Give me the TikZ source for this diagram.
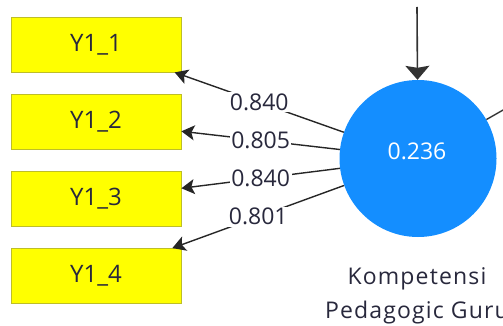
\documentclass[tikz,border=0pt]{standalone}
\usepackage{fontspec}
\setmainfont{Open Sans}
\usetikzlibrary{arrows.meta}
\definecolor{lvblue}{RGB}{20,142,255}
\definecolor{mvyellow}{RGB}{255,255,0}
\definecolor{mvedge}{RGB}{190,190,40}
\definecolor{txtdark}{RGB}{40,40,60}
\tikzset{
  indicator/.style={draw=mvedge, line width=0.8pt, fill=mvyellow,
    minimum width=170pt, minimum height=55pt, inner sep=0pt,
    text=txtdark, font=\fontsize{24}{28}\selectfont},
  latent/.style={circle, fill=lvblue, minimum size=157pt, inner sep=0pt},
  loading/.style={fill=white, inner sep=1.5pt, text=txtdark,
    font=\fontsize{23}{26}\selectfont},
  outerlink/.style={line width=1.4pt, draw=black!85,
    -{Stealth[length=13pt, width=15pt, inset=3pt]}},
  inlink/.style={line width=1.6pt, draw=black!80,
    -{Stealth[length=14pt, width=24pt, inset=2pt]}},
}
\begin{document}
\begin{tikzpicture}[x=1pt, y=-1pt]
  \useasboundingbox (0,0) rectangle (503,326);

  % construct
  \node[latent] (kpg) at (418,158.5) {};
  \node[text=white, font=\fontsize{23}{26}\selectfont] (r2) at (417,151) {0.236};
  % name below the construct; base anchor sits on the last line
  \node[text=txtdark, font=\fontsize{23}{34}\selectfont\addfontfeatures{LetterSpace=5},
    align=center, anchor=base] (kpgname) at (417,318) {Kompetensi\\Pedagogic Guru};

  % indicators
  \node[indicator] (y1) at (96,44.5)  {Y1\_1};
  \node[indicator] (y2) at (96,121.5) {Y1\_2};
  \node[indicator] (y3) at (96,199)   {Y1\_3};
  \node[indicator] (y4) at (96,276)   {Y1\_4};

  % outer loadings
  \draw[outerlink] (kpg) -- node[loading] {0.840} (y1);
  \draw[outerlink] (kpg) -- node[loading] {0.805} (y2);
  \draw[outerlink] (kpg) -- node[loading] {0.840} (y3);
  \draw[outerlink] (kpg) -- node[loading] {0.801} (y4);

  % incoming path from above and outgoing path to the right
  \coordinate (src) at (417,7);
  \draw[inlink] (src) -- (kpg);
  \coordinate (dst) at (540,89);
  \draw[line width=1.4pt, draw=black!80] (kpg) -- (dst);
\end{tikzpicture}
\end{document}
